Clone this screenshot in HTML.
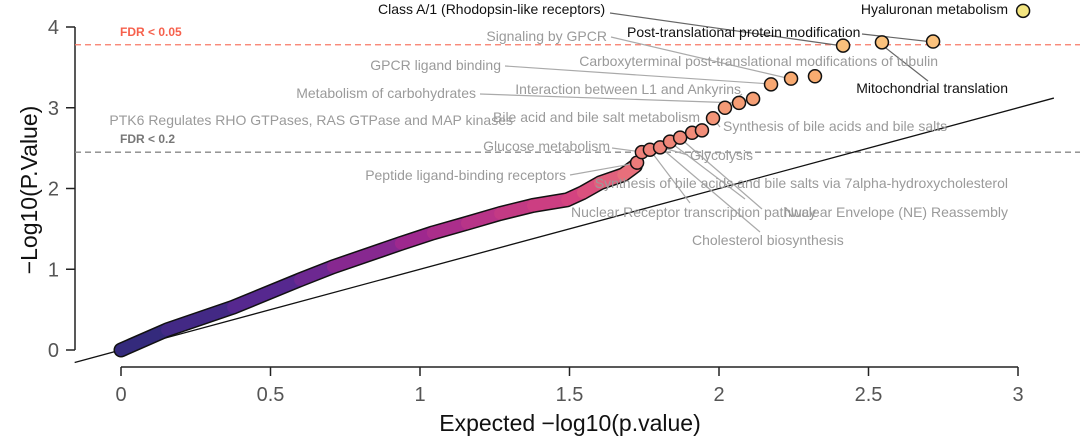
<!DOCTYPE html>
<html><head><meta charset="utf-8">
<style>
html,body{margin:0;padding:0;background:#fff;}
svg{display:block;font-family:"Liberation Sans",Arial,sans-serif;}
.lab{font-size:14px;fill:#9a9a9a;}
.blk{font-size:14px;fill:#111;}
.tick{font-size:20px;fill:#555;}
</style></head>
<body>
<svg id="chart" width="1080" height="442" viewBox="0 0 1080 442"></svg>
<script>
const curveExpected=[0,0.154,0.375,0.599,0.709,0.936,1.043,1.157,1.268,1.378,1.492,1.545,1.602,1.68,1.72];
const curveObserved=[0,0.25,0.53,0.87,1.03,1.32,1.45,1.57,1.69,1.79,1.86,1.95,2.07,2.17,2.28];
const ptExpected=[1.726,1.742,1.769,1.803,1.836,1.870,1.910,1.943,1.980,2.020,2.067,2.114,2.174,2.241,2.321,2.415,2.545,2.716,3.017];
const ptObserved=[2.32,2.45,2.48,2.51,2.58,2.63,2.69,2.72,2.87,3.00,3.06,3.11,3.29,3.36,3.39,3.77,3.81,3.82,4.20];
const xTicks=[0,0.5,1,1.5,2,2.5,3];
const xTickLabels=["0","0.5","1","1.5","2","2.5","3"];
const yTicks=[0,1,2,3,4];
const yTickLabels=["0","1","2","3","4"];
const fdr05=3.78, fdr02=2.45;

const NS="http://www.w3.org/2000/svg";
const svg=document.getElementById('chart');
const X=v=>121+v*299;
const Y=v=>350-v*80.75;
function el(t,a,p){const e=document.createElementNS(NS,t);for(const k in a)e.setAttribute(k,a[k]);(p||svg).appendChild(e);return e;}
const stops=[[0,[44,42,120]],[0.8,[92,40,146]],[1.4,[160,40,142]],[1.9,[212,66,128]],[2.3,[236,122,122]],[2.9,[243,150,120]],[3.4,[248,172,112]],[3.85,[251,196,126]],[4.2,[243,229,128]]];
function col(v){for(let i=1;i<stops.length;i++){if(v<=stops[i][0]){const a=stops[i-1],b=stops[i],t=(v-a[0])/(b[0]-a[0]);return 'rgb('+a[1].map((c,j)=>Math.round(c+(b[1][j]-c)*t)).join(',')+')';}}return 'rgb(243,229,128)';}

// axes
let g=el('g',{});

el('line',{x1:75,y1:Y(4),x2:75,y2:Y(0),stroke:'#222','stroke-width':1.5},g);
yTicks.forEach((v,i)=>{el('line',{x1:66,y1:Y(v),x2:75,y2:Y(v),stroke:'#222','stroke-width':1.5},g);
 const t=el('text',{x:59,y:Y(v)+7,'text-anchor':'end',class:'tick'},g);t.textContent=yTickLabels[i];
 });
let yt=el('text',{x:0,y:0,transform:'translate(37,190) rotate(-90)','text-anchor':'middle','font-size':'23',fill:'#111'});
yt.textContent='−Log10(P.Value)';

g=el('g',{});

el('line',{x1:X(0),y1:367,x2:X(3),y2:367,stroke:'#222','stroke-width':1.5},g);
xTicks.forEach((v,i)=>{el('line',{x1:X(v),y1:367,x2:X(v),y2:376,stroke:'#222','stroke-width':1.5},g);
 const t=el('text',{x:X(v),y:401,'text-anchor':'middle',class:'tick'},g);t.textContent=xTickLabels[i];
 });
let xt=el('text',{x:570,y:431,'text-anchor':'middle','font-size':'23',fill:'#111'});
xt.textContent='Expected −log10(p.value)';

// FDR lines
let l1=el('line',{x1:75,y1:Y(fdr05),x2:1080,y2:Y(fdr05),stroke:'#f87a68','stroke-width':1.3,'stroke-dasharray':'6,4'});

let l2=el('line',{x1:75,y1:Y(fdr02),x2:1080,y2:Y(fdr02),stroke:'#888','stroke-width':1.3,'stroke-dasharray':'6,4'});

let f1=el('text',{x:120,y:Y(fdr05)-9,'font-size':'12','font-weight':'bold',fill:'#f6604c'});f1.textContent='FDR < 0.05';

let f2=el('text',{x:120,y:Y(fdr02)-9,'font-size':'12','font-weight':'bold',fill:'#777'});f2.textContent='FDR < 0.2';


// diagonal
let dg=el('line',{x1:X(-0.155),y1:Y(-0.155),x2:X(3.12),y2:Y(3.12),stroke:'#111','stroke-width':1.3});


// curve
let cp=curveExpected.map((v,i)=>X(v)+','+Y(curveObserved[i])).join(' ');
let co=el('polyline',{points:cp,fill:'none',stroke:'#111','stroke-width':15,'stroke-linecap':'round','stroke-linejoin':'round'});

for(let i=0;i<curveExpected.length-1;i++){
 const s=el('line',{x1:X(curveExpected[i]),y1:Y(curveObserved[i]),x2:X(curveExpected[i+1]),y2:Y(curveObserved[i+1]),stroke:col((curveObserved[i]+curveObserved[i+1])/2),'stroke-width':12,'stroke-linecap':'round'});
 
}

// labels + leaders
const labels=[
 ['Class A/1 (Rhodopsin-like receptors)',378,14,'start',1,610,13,843,46],
 ['Hyaluronan metabolism',1008,14,'end',1,null],
 ['Post-translational protein modification',627,37,'start',1,862,34,933,42],
 ['Mitochondrial translation',1008,93,'end',1,928,81,882,45],
 ['Signaling by GPCR',607,41,'end',0,611,37,791,79],
 ['Carboxyterminal post-translational modifications of tubulin',938,66,'end',0,null],
 ['GPCR ligand binding',501,70,'end',0,505,66,771,84],
 ['Metabolism of carbohydrates',476,98,'end',0,480,94,739,103],
 ['Interaction between L1 and Ankyrins',741,94,'end',0,742,94,725,108],
 ['Bile acid and bile salt metabolism',700,122,'end',0,null],
 ['PTK6 Regulates RHO GTPases, RAS GTPase and MAP kinases',513,125,'end',0,null],
 ['Synthesis of bile acids and bile salts',723,131,'start',0,720,127,713,118],
 ['Glucose metabolism',610,151,'end',0,612,148,642,152],
 ['Glycolysis',690,160,'start',0,688,155,660,147],
 ['Peptide ligand-binding receptors',566,180,'end',0,570,175,637,163],
 ['Synthesis of bile acids and bile salts via 7alpha-hydroxycholesterol',1008,188,'end',0,745,199,670,142],
 ['Nuclear Receptor transcription pathway',571,217,'start',0,690,203,650,150],
 ['Nuclear Envelope (NE) Reassembly',1008,217,'end',0,762,209,680,138],
 ['Cholesterol biosynthesis',692,245,'start',0,760,232,660,147]
];
labels.forEach(L=>{if(L[5]!==null){const ln=el('line',{x1:L[5],y1:L[6],x2:L[7],y2:L[8],stroke:L[4]?'#666':'#aaa','stroke-width':1.2});
 }});

// points
ptExpected.forEach((v,i)=>{const c=el('circle',{cx:X(v),cy:Y(ptObserved[i]),r:6.5,fill:col(ptObserved[i]),stroke:'#111','stroke-width':1.5});
 });

labels.forEach(L=>{const t=el('text',{x:L[1],y:L[2],'text-anchor':L[3],class:L[4]?'blk':'lab'});t.textContent=L[0];
 });
</script>
</body></html>
